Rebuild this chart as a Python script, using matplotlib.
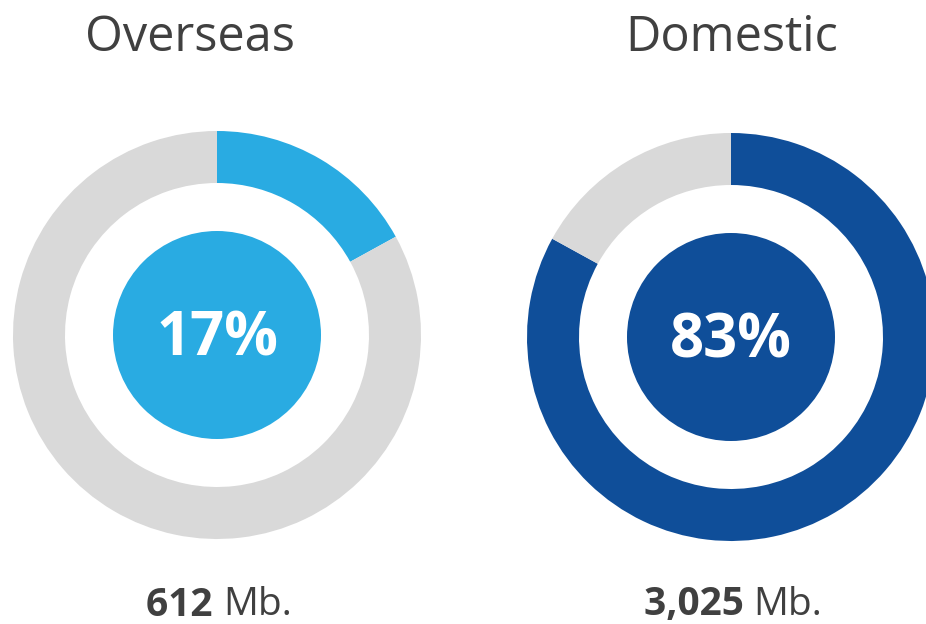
import matplotlib.pyplot as plt
from matplotlib.patches import Circle

plt.rcParams['font.family'] = ['Open Sans', 'DejaVu Sans']

# data
titles = ['Overseas', 'Domestic']
shares = [17, 83]
sizes = ['612', '3,025']
unit = 'Mb.'
colors = ['#29ABE2', '#0F4E99']
rest_color = '#D9D9D9'
text_color = '#404040'

# layout in pixel coordinates
centers = [(217, 335), (731, 337)]
title_x = [190, 732]
r_out = 204
ring = 52
r_center = 104

fig = plt.figure(figsize=(9.26, 6.24), dpi=100)
ax = fig.add_axes([0, 0, 1, 1])
ax.set_xlim(0, 926)
ax.set_ylim(624, 0)
ax.set_aspect('equal')
ax.axis('off')

for title, tx, pct, size, col, (cx, cy) in zip(titles, title_x, shares, sizes, colors, centers):
    # y axis is inverted: start at -90 and go counterclockwise in data
    ax.pie([pct, 100 - pct], colors=[col, rest_color], startangle=-90,
           counterclock=True, center=(cx, cy), radius=r_out,
           wedgeprops=dict(width=ring, linewidth=0), frame=True)
    ax.add_patch(Circle((cx, cy), r_center, color=col, lw=0))
    ax.text(cx, cy + 5, f'{pct}%', ha='center', va='center', color='white',
            fontsize=43, fontweight='bold')
    ax.text(tx, 38, title, ha='center', va='center',
            color=text_color, fontsize=35)
    t1 = ax.text(0, 605, size + ' ', ha='left', va='center', color=text_color,
                 fontsize=28, fontweight='bold')
    t2 = ax.text(0, 605, unit, ha='left', va='center', color=text_color,
                 fontsize=28)
    fig.canvas.draw()
    r = fig.canvas.get_renderer()
    w1 = t1.get_window_extent(r).width
    w2 = t2.get_window_extent(r).width
    x0 = cx + 2 - (w1 + w2) / 2
    t1.set_x(x0)
    t2.set_x(x0 + w1)

ax.set_xlim(0, 926)
ax.set_ylim(624, 0)
fig.savefig('out.png', dpi=100)
